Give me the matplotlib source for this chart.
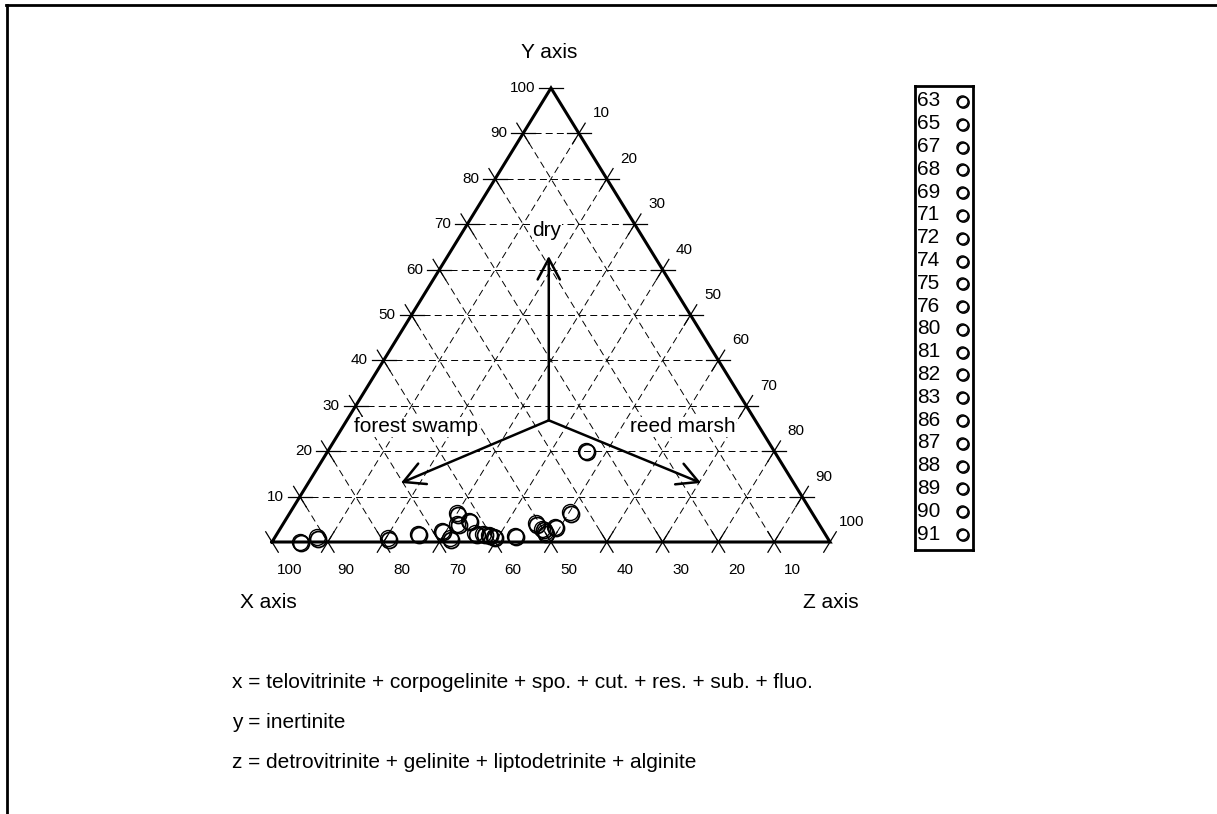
import numpy as np
import matplotlib
matplotlib.use("Agg")
import matplotlib.pyplot as plt
from matplotlib.lines import Line2D
from matplotlib.transforms import offset_copy

plt.rcParams['font.family'] = ['Liberation Sans', 'DejaVu Sans']
plt.rcParams['lines.scale_dashes'] = False

# sample compositions in percent (x, y, z)
samples = ['63', '65', '67', '68', '69', '71', '72', '74', '75', '76',
           '80', '81', '82', '83', '86', '87', '88', '89', '90', '91']
x_pct = [95.0, 91.5, 78.8, 73.0, 68.3, 67.7, 63.7, 64.8, 62.4, 62.6,
         61.2, 60.3, 59.6, 55.8, 50.7, 50.1, 50.1, 47.6, 43.4, 33.7]
y_pct = [0.0, 1.0, 0.8, 1.8, 2.5, 0.8, 6.3, 4.0, 4.6, 1.9,
         1.8, 1.6, 1.2, 1.4, 4.1, 2.9, 2.1, 3.4, 6.5, 20.1]
z_pct = [5.0, 7.5, 20.4, 25.2, 29.2, 31.5, 30.0, 31.2, 33.0, 35.5,
         37.0, 38.1, 39.2, 42.8, 45.2, 47.0, 47.8, 49.0, 50.1, 46.2]

grid_vals = [10, 20, 30, 40, 50, 60, 70, 80, 90]
tick_vals = [10, 20, 30, 40, 50, 60, 70, 80, 90, 100]

# arrows: common start and three tips (x, y, z)
arrow_start = (37.0, 26.8, 36.2)
arrow_tips = {'dry': (18.9, 63.0, 18.1),
              'forest swamp': (70.4, 13.0, 16.6),
              'reed marsh': (16.6, 13.0, 70.4)}

notes = ['x = telovitrinite + corpogelinite + spo. + cut. + res. + sub. + fluo.',
         'y = inertinite',
         'z = detrovitrinite + gelinite + liptodetrinite + alginite']

W, H = 1217, 814
fig = plt.figure(figsize=(W / 100, H / 100), dpi=100)

# triangle box in pixels
L, R, B, T = 272, 830, 542, 88
PX, PY = R - L, B - T
ax = fig.add_axes([L / W, 1 - B / H, PX / W, PY / H])
ax.set_xlim(0, 1)
ax.set_ylim(0, 1)
ax.axis('off')


def tern(x, y, z):
    x, y, z = np.asarray(x, float), np.asarray(y, float), np.asarray(z, float)
    return z / 100 + y / 200, y / 100


def px_off(p, dx, dy):
    # offset a data point by pixels
    return p[0] + dx / PX, p[1] + dy / PY


def fpos(px, py):
    return px / W, 1 - py / H


# pixel directions of the three grid families
n = np.hypot(PX / 2, PY)
DIR_H = (1.0, 0.0)
DIR_X = (PX / 2 / n, -PY / n)   # constant x, parallel to right side
DIR_Z = (PX / 2 / n, PY / n)    # constant z, parallel to left side
TL = 12


def tick(p, d):
    a = px_off(p, -TL * d[0], -TL * d[1])
    b = px_off(p, TL * d[0], TL * d[1])
    ax.plot([a[0], b[0]], [a[1], b[1]], color='k', lw=0.9, clip_on=False)


gstyle = dict(color='k', lw=0.7, dashes=(5, 3))
for k in grid_vals:
    # y = k
    p1, p2 = tern(100 - k, k, 0), tern(0, k, 100 - k)
    ax.plot([p1[0], p2[0]], [p1[1], p2[1]], **gstyle)
    # x = k
    p1, p2 = tern(k, 100 - k, 0), tern(k, 0, 100 - k)
    ax.plot([p1[0], p2[0]], [p1[1], p2[1]], **gstyle)
    # z = k
    p1, p2 = tern(100 - k, 0, k), tern(0, 100 - k, k)
    ax.plot([p1[0], p2[0]], [p1[1], p2[1]], **gstyle)

for v in tick_vals:
    # left side: Y axis
    p = tern(100 - v, v, 0)
    tick(p, DIR_H)
    if v < 100:
        tick(p, DIR_X)
    lp = px_off(p, -16, 0)
    ax.text(lp[0], lp[1], str(v), ha='right', va='center', fontsize=11)
    # bottom: X axis
    p = tern(v, 0, 100 - v)
    tick(p, DIR_X)
    if v < 100:
        tick(p, DIR_Z)
    lp = px_off(p, 18, -28)
    ax.text(lp[0], lp[1], str(v), ha='center', va='center', fontsize=11)
    # right side: Z axis
    p = tern(0, 100 - v, v)
    tick(p, DIR_Z)
    if v < 100:
        tick(p, DIR_H)
    lp = px_off(p, 22, 20)
    ax.text(lp[0], lp[1], str(v), ha='center', va='center', fontsize=11)

# triangle outline
cx, cy = tern([100, 0, 0, 100], [0, 100, 0, 0], [0, 0, 100, 0])
ax.plot(cx, cy, color='k', lw=2.2, solid_joinstyle='miter', clip_on=False)

# arrows
s = tern(*arrow_start)
for lab, tip in arrow_tips.items():
    e = tern(*tip)
    ax.annotate('', xy=e, xytext=s,
                arrowprops=dict(arrowstyle='->,head_length=0.75,head_width=0.4',
                                lw=1.8, color='k', shrinkA=0, shrinkB=0,
                                mutation_scale=20))

txt_box = dict(facecolor='white', edgecolor='none', pad=0.5)
fig.text(*fpos(547, 230), 'dry', ha='center', va='center', fontsize=15, bbox=txt_box)
fig.text(*fpos(416, 427), 'forest swamp', ha='center', va='center', fontsize=15, bbox=txt_box)
fig.text(*fpos(683, 427), 'reed marsh', ha='center', va='center', fontsize=15, bbox=txt_box)

# samples with a small drop shadow
px_, py_ = tern(x_pct, y_pct, z_pct)
shadow = offset_copy(ax.transData, fig=fig, x=1.3, y=-1.3, units='dots')
ax.plot(px_, py_, 'o', ms=11.5, mfc='none', mec='k', mew=1.3,
        transform=shadow, clip_on=False)
ax.plot(px_, py_, 'o', ms=11.5, mfc='none', mec='k', mew=1.0, clip_on=False)

# axis titles
fig.text(*fpos(549, 53), 'Y axis', ha='center', va='center', fontsize=15)
fig.text(*fpos(268, 602), 'X axis', ha='center', va='center', fontsize=15)
fig.text(*fpos(831, 602), 'Z axis', ha='center', va='center', fontsize=15)

# legend box
lg = fig.add_axes([915 / W, 1 - 550 / H, 58 / W, 464 / H])
lg.set_xlim(0, 58)
lg.set_ylim(464, 0)
lg.set_xticks([])
lg.set_yticks([])
for sp in lg.spines.values():
    sp.set_linewidth(2)
rows = 101 - 86 + np.arange(len(samples)) * (534 - 101) / (len(samples) - 1)
for name, ry in zip(samples, rows):
    lg.text(2, ry, name, ha='left', va='center', fontsize=15)
lshadow = offset_copy(lg.transData, fig=fig, x=1.0, y=-1.0, units='dots')
lg.plot(np.full(len(rows), 47), rows, 'o', ms=8, mfc='none', mec='k', mew=1.2,
        transform=lshadow)
lg.plot(np.full(len(rows), 47), rows, 'o', ms=8, mfc='none', mec='k', mew=1.0)

# notes below the diagram
for i, t in enumerate(notes):
    fig.text(*fpos(232, 683 + 40 * i), t, ha='left', va='center', fontsize=15)

# page frame (top and left only)
fig.add_artist(Line2D([6 / W, 1], [1 - 5 / H, 1 - 5 / H], color='k', lw=2))
fig.add_artist(Line2D([6.5 / W, 6.5 / W], [0, 1 - 5 / H], color='k', lw=2))

fig.savefig('out.png', dpi=100)
